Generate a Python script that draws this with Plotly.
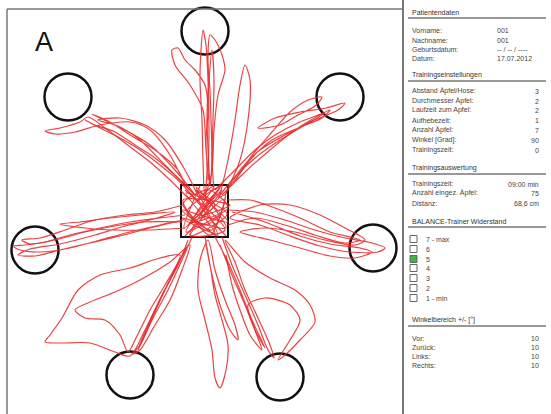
import plotly.graph_objects as go

# ---- target positions (arena units ~ pixels) ----
target_x = [205, 68, 340, 35, 373, 130, 280]
target_y = [31, 97, 97, 250, 248, 375, 377]
target_r = 23.5
start_box = [181, 185, 228, 237]  # x0, y0, x1, y1

# ---- movement trajectories (one continuous path per excursion) ----
top_x = [205, 207, 206, 208, 205, 195, 185, 178, 172, 175, 190, 203, 206, 210, 212, 211, 210, 208, 210, 215, 222, 225, 218, 214, 212, 205, 203, 202, 200, 201, 203, 206, 208, 209, 208]
top_y = [200, 170, 140, 110, 85, 70, 60, 48, 50, 65, 85, 110, 150, 185, 160, 120, 90, 60, 35, 40, 55, 70, 95, 130, 170, 195, 160, 120, 80, 50, 30, 45, 80, 130, 180]
top2_x = [210, 208, 207, 209, 212, 214, 213, 212, 214]
top2_y = [185, 150, 115, 80, 50, 80, 120, 160, 190]

upper_x = [220, 228, 235, 240, 245, 250, 248, 240, 225]
upper_y = [195, 160, 120, 85, 65, 80, 120, 160, 195]

topleft_x = [190, 170, 150, 125, 105, 88, 80, 60, 45, 55, 75, 100, 130, 150, 170, 185, 178, 155, 130, 110, 92, 100, 125, 150, 175, 195, 165, 140, 118, 98, 120, 145, 165, 185, 200]
topleft_y = [200, 180, 162, 143, 128, 117, 122, 128, 131, 134, 132, 125, 122, 130, 155, 185, 170, 150, 135, 122, 114, 118, 130, 145, 170, 195, 165, 140, 126, 120, 118, 125, 140, 170, 200]
topleft2_x = [195, 175, 155, 135, 115, 95, 85, 100, 120, 140, 160, 180, 200]
topleft2_y = [195, 175, 158, 145, 132, 125, 120, 128, 138, 150, 165, 182, 205]

topright_x = [222, 245, 270, 295, 318, 330, 322, 298, 272, 250, 232, 250, 272, 290, 308, 322, 315, 298, 280, 258, 275, 300, 326, 345, 338, 310, 285, 260, 240, 225]
topright_y = [195, 172, 150, 130, 116, 110, 118, 128, 140, 160, 185, 158, 132, 112, 100, 97, 106, 115, 125, 128, 118, 112, 108, 103, 110, 122, 135, 150, 170, 195]
topright2_x = [215, 235, 255, 275, 300, 325, 305, 280, 255, 232, 218]
topright2_y = [190, 170, 150, 135, 122, 113, 125, 140, 158, 180, 198]

left_x = [185, 160, 130, 100, 70, 45, 25, 13, 20, 40, 70, 100, 130, 160, 183, 150, 120, 90, 60, 35, 18, 30, 60, 95, 125, 150, 175, 140, 110, 80, 60, 85, 115, 150, 185]
left_y = [215, 218, 222, 228, 235, 242, 245, 246, 250, 252, 248, 240, 232, 225, 220, 228, 236, 243, 250, 256, 255, 249, 244, 235, 226, 220, 212, 215, 218, 222, 224, 228, 230, 230, 228]
left2_x = [183, 155, 125, 95, 65, 40, 22, 30, 55, 85, 115, 145, 182]
left2_y = [205, 212, 215, 220, 230, 238, 240, 244, 240, 232, 226, 222, 222]

right_x = [228, 255, 285, 315, 345, 368, 385, 378, 350, 320, 290, 260, 230, 260, 290, 320, 345, 365, 355, 325, 295, 265, 240, 270, 300, 330, 355, 372, 360, 330, 300, 265, 232]
right_y = [210, 212, 220, 230, 238, 242, 248, 252, 252, 246, 236, 225, 218, 205, 205, 215, 228, 240, 245, 240, 232, 228, 232, 240, 248, 256, 258, 252, 248, 244, 236, 222, 212]
right2_x = [228, 250, 275, 300, 330, 360, 345, 315, 285, 255, 228]
right2_y = [200, 200, 208, 218, 232, 240, 243, 235, 225, 218, 225]

botleft_x = [192, 182, 168, 152, 140, 133, 140, 155, 170, 182, 190, 170, 140, 115, 90, 75, 85, 105, 120, 128, 135, 150, 165, 180, 160, 130, 100, 78, 62, 50, 45, 60, 90, 115, 130, 145, 160, 175, 188]
botleft_y = [237, 260, 290, 320, 345, 354, 350, 325, 300, 270, 245, 262, 280, 292, 302, 310, 318, 320, 335, 352, 340, 310, 285, 255, 258, 268, 275, 290, 318, 335, 342, 343, 343, 352, 356, 330, 300, 270, 245]
botleft2_x = [188, 178, 162, 148, 138, 145, 158, 172, 185]
botleft2_y = [240, 265, 295, 325, 350, 335, 305, 275, 250]

bottom_x = [205, 210, 215, 222, 228, 226, 220, 215, 212, 205, 198, 200, 208, 215, 225, 235, 238, 230, 220, 212, 206]
bottom_y = [237, 265, 295, 320, 345, 370, 388, 378, 350, 320, 290, 260, 240, 270, 300, 325, 340, 330, 305, 275, 245]

botright_x = [222, 232, 245, 258, 268, 274, 270, 258, 245, 235, 225, 245, 270, 295, 310, 315, 300, 285, 278, 290, 300, 290, 265, 248, 255, 262, 250, 240, 232, 226]
botright_y = [237, 265, 295, 325, 350, 358, 345, 318, 290, 262, 240, 262, 278, 290, 305, 322, 340, 355, 360, 340, 320, 305, 298, 305, 330, 350, 335, 310, 285, 255]
botright2_x = [215, 228, 240, 252, 265, 255, 245, 232, 220]
botright2_y = [237, 262, 290, 320, 348, 330, 305, 275, 245]

center_x = [185, 225, 190, 220, 200, 230, 183, 210, 225, 188, 215, 195, 228, 182, 205, 220, 186, 214, 199, 226]
center_y = [190, 230, 235, 188, 215, 205, 200, 235, 195, 225, 205, 190, 222, 210, 225, 215, 232, 186, 200, 236]
center2_x = [200, 184, 222, 190, 227, 186, 215, 182, 226, 196, 218, 183, 209, 228, 191, 221, 187, 212, 224, 185]
center2_y = [186, 228, 190, 236, 214, 193, 233, 218, 228, 187, 236, 204, 190, 208, 222, 186, 212, 230, 199, 236]

paths = [(top_x, top_y), (top2_x, top2_y), (upper_x, upper_y),
         (topleft_x, topleft_y), (topleft2_x, topleft2_y),
         (topright_x, topright_y), (topright2_x, topright2_y),
         (left_x, left_y), (left2_x, left2_y),
         (right_x, right_y), (right2_x, right2_y),
         (botleft_x, botleft_y), (botleft2_x, botleft2_y),
         (bottom_x, bottom_y),
         (botright_x, botright_y), (botright2_x, botright2_y),
         (center_x, center_y), (center2_x, center2_y)]

# ---- side panel content ----
patient_labels = ["Vorname:", "Nachname:", "Geburtsdatum:", "Datum:"]
patient_values = ["001", "001", "-- / -- / ----", "17.07.2012"]
patient_rows = [30, 40, 49, 58]

settings_labels = ["Abstand Äpfel/Hose:", "Durchmesser Äpfel:", "Laufzeit zum Apfel:", "Aufhebezeit:",
                   "Anzahl Äpfel:", "Winkel [Grad]:", "Trainingszeit:"]
settings_values = ["3", "2", "2", "1", "7", "90", "0"]
settings_rows = [91, 101, 110, 120, 130, 140, 150]

result_labels = ["Trainingszeit:", "Anzahl eingez. Äpfel:", "Distanz:"]
result_values = ["09:00 min", "75", "68,6 cm"]
result_rows = [184, 193, 203]

level_labels = ["7 - max", "6", "5", "4", "3", "2", "1 - min"]
level_rows = [239, 249, 259, 268, 278, 288, 298]
level_active = "5"

angle_labels = ["Vor:", "Zurück:", "Links:", "Rechts:"]
angle_values = ["10", "10", "10", "10"]
angle_rows = [338, 347, 356, 365]

headers = ["Patientendaten", "Trainingseinstellungen", "Trainingsauswertung",
           "BALANCE-Trainer Widerstand", "Winkelbereich +/- [°]"]
header_rows = [12, 75, 168, 221, 320]

fig = go.Figure()
for px, py in paths:
    fig.add_trace(go.Scatter(x=px, y=py, mode="lines",
                             line=dict(color="rgba(232,45,45,0.9)", width=1.2, shape="spline", smoothing=0.8),
                             hoverinfo="skip", showlegend=False))

shapes = []
# frame
shapes.append(dict(type="line", x0=7, x1=403, y0=9, y1=9, line=dict(color="#777", width=1.5)))
shapes.append(dict(type="line", x0=7, x1=7, y0=9, y1=414, line=dict(color="#777", width=1.5)))
shapes.append(dict(type="line", x0=403, x1=403, y0=0, y1=414, line=dict(color="#777", width=2)))
# targets
for cx, cy in zip(target_x, target_y):
    shapes.append(dict(type="circle", x0=cx - target_r, x1=cx + target_r, y0=cy - target_r, y1=cy + target_r,
                       line=dict(color="#111", width=2.5), layer="below"))
shapes.append(dict(type="rect", x0=start_box[0], y0=start_box[1], x1=start_box[2], y1=start_box[3],
                   line=dict(color="#111", width=2), layer="below"))
# header underlines
for hy in header_rows:
    shapes.append(dict(type="line", x0=408, x1=546, y0=hy + 6, y1=hy + 6, line=dict(color="#999", width=2)))
# checkboxes
for lab, ry in zip(level_labels, level_rows):
    shapes.append(dict(type="rect", x0=410, x1=417, y0=ry - 3.5, y1=ry + 3.5,
                       line=dict(color="#666", width=1),
                       fillcolor="#3cb83c" if lab == level_active else "white"))

ann = []
fnt = dict(family="Liberation Sans, Arial, sans-serif", size=7, color="#444")
hfnt = dict(family="Liberation Sans, Arial, sans-serif", size=7, color="#333")
for t, y in zip(headers, header_rows):
    ann.append(dict(x=410, y=y, text=t, xanchor="left", yanchor="middle", font=hfnt))
for l, v, y in zip(patient_labels, patient_values, patient_rows):
    ann.append(dict(x=410, y=y, text=l, xanchor="left", yanchor="middle", font=fnt))
    ann.append(dict(x=495, y=y, text=v, xanchor="left", yanchor="middle", font=fnt))
for labs, vals, rows in [(settings_labels, settings_values, settings_rows),
                         (result_labels, result_values, result_rows),
                         (angle_labels, angle_values, angle_rows)]:
    for l, v, y in zip(labs, vals, rows):
        ann.append(dict(x=410, y=y, text=l, xanchor="left", yanchor="middle", font=fnt))
        ann.append(dict(x=541, y=y, text=v, xanchor="right", yanchor="middle", font=fnt))
for l, y in zip(level_labels, level_rows):
    ann.append(dict(x=424, y=y, text=l, xanchor="left", yanchor="middle", font=fnt))
ann.append(dict(x=44, y=42, text="A", xanchor="center", yanchor="middle",
                font=dict(family="Liberation Sans, Arial, sans-serif", size=27, color="#111")))
for a in ann:
    a.update(showarrow=False, xref="x", yref="y")

fig.update_layout(
    width=551, height=414, margin=dict(l=0, r=0, t=0, b=0),
    paper_bgcolor="white", plot_bgcolor="white",
    xaxis=dict(range=[0, 551], visible=False, fixedrange=True),
    yaxis=dict(range=[414, 0], visible=False, fixedrange=True),
    shapes=shapes, annotations=ann, showlegend=False,
)
fig.write_html("out.html")
